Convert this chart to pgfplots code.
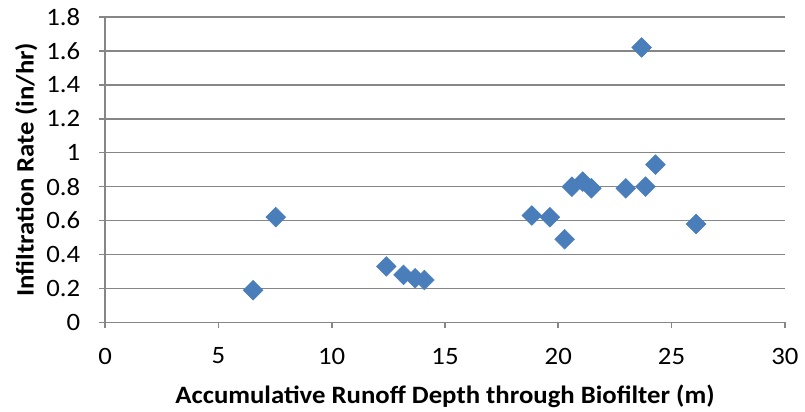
\documentclass[border=0pt]{standalone}
\usepackage{pgfplots}
\pgfplotsset{compat=1.18}
\usepackage{fontspec}
\setmainfont{Carlito}[FakeStretch=1.07]
\definecolor{gridgray}{HTML}{868686}
\definecolor{xlblue}{HTML}{4A7EBB}
\begin{document}
\begin{tikzpicture}
\begin{axis}[
  scale only axis,
  width=342.5pt, height=154pt,
  xmin=0, xmax=30, ymin=0, ymax=1.8,
  xtick={0,5,...,30},
  ytick={0,0.2,...,1.8},
  yticklabel style={/pgf/number format/fixed, /pgf/number format/precision=1, xshift=-6pt},
  xticklabel style={yshift=-6.3pt},
  /pgf/number format/assume math mode=true,
  ymajorgrids,
  major grid style={gridgray, line width=0.8pt},
  axis line style={gridgray, line width=0.8pt},
  axis x line*=bottom, axis y line*=left,
  tick align=outside,
  major tick length=3pt,
  tick style={gridgray, line width=0.8pt},
  every tick label/.append style={font=\fontsize{12.6}{15}\selectfont, text=black},
  label style={font=\fontsize{12.6}{15}\selectfont\bfseries, inner sep=0pt},
  xlabel={Accumulative Runoff Depth through Biofilter (m)},
  ylabel={Infiltration Rate (in/hr)},
  xlabel shift=7pt,
  ylabel shift=1pt,
  clip=false,
]
\addplot[only marks, mark=square*, mark size=3.5pt,
  mark options={rotate=45, fill=xlblue, draw=xlblue, line width=0.3pt}]
coordinates {
(6.53,0.19) (7.53,0.62) (12.41,0.33) (13.17,0.28) (13.68,0.26) (14.09,0.25)
(18.83,0.63) (19.63,0.62) (20.28,0.49) (20.60,0.80) (21.08,0.83) (21.46,0.79)
(22.98,0.79) (23.68,1.62) (23.85,0.80) (24.29,0.93) (26.08,0.58)
};
\coordinate (ll) at (rel axis cs:0,0);
\coordinate (ur) at (rel axis cs:1,1);
\end{axis}
\path ([shift={(-53pt,-45pt)}]ll) rectangle ([shift={(7pt,8.5pt)}]ur);
\end{tikzpicture}
\end{document}
